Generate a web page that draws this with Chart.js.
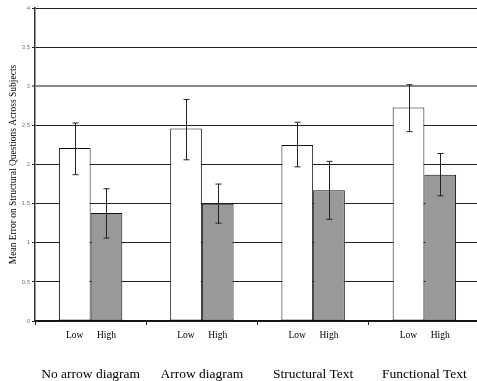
<!DOCTYPE html>
<html>
<head>
<meta charset="utf-8">
<script src="https://cdn.jsdelivr.net/npm/chart.js@4"></script>
<style>
  html, body { margin: 0; padding: 0; background: #fff; overflow: hidden; }
  #wrap { width: 477px; height: 381px; overflow: hidden; }
</style>
</head>
<body>
<div id="wrap"><canvas id="grafico" width="480" height="381"></canvas></div>
<script>
// datos
var categories = ["No arrow diagram", "Arrow diagram", "Structural Text", "Functional Text"];
var seriesNames = ["Low", "High"];
var lowMeans = [2.21, 2.46, 2.25, 2.73];
var highMeans = [1.38, 1.50, 1.67, 1.87];
var lowErrLo = [1.87, 2.06, 1.97, 2.42];
var lowErrHi = [2.53, 2.83, 2.54, 3.02];
var highErrLo = [1.06, 1.25, 1.30, 1.60];
var highErrHi = [1.69, 1.75, 2.04, 2.14];
var yMin = 0, yMax = 4, yStep = 0.5;

var serif = "'Liberation Serif', 'Times New Roman', serif";
var sans = "'Liberation Sans', Arial, sans-serif";

// barras de error
var errorBars = {
  id: "errorBars",
  afterDatasetsDraw: function (chart) {
    var ctx = chart.ctx;
    var y = chart.scales.y;
    ctx.save();
    ctx.strokeStyle = "#222";
    ctx.lineWidth = 1;
    chart.data.datasets.forEach(function (ds, i) {
      var meta = chart.getDatasetMeta(i);
      meta.data.forEach(function (bar, j) {
        var x = Math.round(bar.x) + 0.5;
        var top = y.getPixelForValue(ds.errHi[j]);
        var bot = y.getPixelForValue(ds.errLo[j]);
        ctx.beginPath();
        ctx.moveTo(x, top); ctx.lineTo(x, bot);
        ctx.moveTo(x - 3, top); ctx.lineTo(x + 3, top);
        ctx.moveTo(x - 3, bot); ctx.lineTo(x + 3, bot);
        ctx.stroke();
      });
    });
    ctx.restore();
  }
};

// etiquetas Low / High debajo de cada barra
var barLabels = {
  id: "barLabels",
  afterDraw: function (chart) {
    var ctx = chart.ctx;
    var xs = chart.scales.x;
    ctx.save();
    ctx.fillStyle = "#000";
    ctx.font = "9.5px " + serif;
    ctx.textAlign = "center";
    ctx.textBaseline = "middle";
    chart.data.datasets.forEach(function (ds, i) {
      chart.getDatasetMeta(i).data.forEach(function (bar) {
        ctx.fillText(ds.label, bar.x, xs.top + 14.5);
      });
    });
    ctx.restore();
  }
};

var ctx = document.getElementById("grafico").getContext("2d");
new Chart(ctx, {
  type: "bar",
  data: {
    labels: categories,
    datasets: [
      {
        label: seriesNames[0],
        data: lowMeans,
        errLo: lowErrLo,
        errHi: lowErrHi,
        backgroundColor: "#ffffff",
        borderColor: "#111",
        borderWidth: 1,
        borderSkipped: false
      },
      {
        label: seriesNames[1],
        data: highMeans,
        errLo: highErrLo,
        errHi: highErrHi,
        backgroundColor: "#999999",
        borderColor: "#111",
        borderWidth: 1,
        borderSkipped: false
      }
    ]
  },
  options: {
    responsive: false,
    animation: false,
    categoryPercentage: 0.57,
    barPercentage: 1.0,
    layout: { padding: { top: 8, right: 0, left: 0, bottom: 0 } },
    plugins: {
      legend: { display: false },
      tooltip: { enabled: false }
    },
    scales: {
      x: {
        offset: true,
        grid: {
          display: true,
          drawOnChartArea: false,
          offset: true,
          color: "#222",
          tickLength: 4
        },
        border: { display: true, color: "#111", width: 1.5 },
        ticks: {
          color: "#000",
          font: { family: serif, size: 13.5 },
          padding: 41,
          maxRotation: 0,
          autoSkip: false
        },
        afterFit: function (s) {
          s.height = 60;
          s.paddingLeft = 0;
          s.paddingRight = 0;
        }
      },
      y: {
        min: yMin,
        max: yMax,
        ticks: {
          stepSize: yStep,
          color: "#777",
          font: { family: sans, size: 6 },
          padding: 2,
          callback: function (v) { return v; }
        },
        grid: {
          color: function (c) { return c.tick && c.tick.value === 3 ? "#888" : "#222"; },
          lineWidth: function (c) { return c.tick && c.tick.value === 3 ? 2 : 1; },
          tickLength: 3
        },
        border: { display: true, color: "#333", width: 1.5 },
        title: {
          display: true,
          text: "Mean Error on Structural Questions Across Subjects",
          color: "#000",
          font: { family: serif, size: 9.5 },
          padding: { top: 8, bottom: 0 }
        },
        afterFit: function (s) { s.width = 35; }
      }
    }
  },
  plugins: [errorBars, barLabels]
});
</script>
</body>
</html>
